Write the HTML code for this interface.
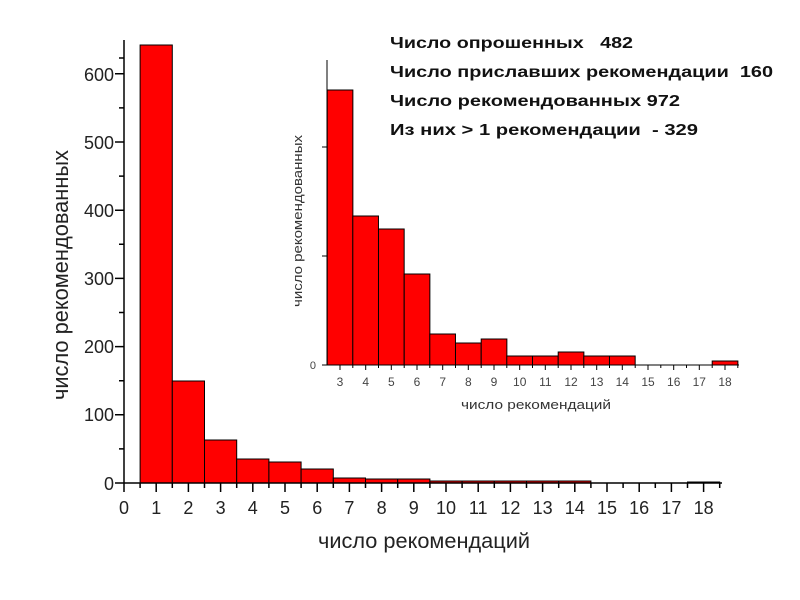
<!DOCTYPE html>
<html><head><meta charset="utf-8"><style>
html,body{margin:0;padding:0;background:#fff;}
svg{display:block;font-family:"Liberation Sans",Arial,sans-serif;}
.pre{white-space:pre;}
</style></head><body>
<svg width="800" height="600" viewBox="0 0 800 600" xmlns="http://www.w3.org/2000/svg" xml:space="preserve">
<rect width="800" height="600" fill="#fff"/>
<g fill="#f00" stroke="#000" stroke-width="1">
<rect x="140.1" y="45" width="32.2" height="438"/>
<rect x="172.3" y="381" width="32.2" height="102"/>
<rect x="204.5" y="440" width="32.2" height="43"/>
<rect x="236.7" y="459" width="32.2" height="24"/>
<rect x="268.9" y="462" width="32.2" height="21"/>
<rect x="301.1" y="469" width="32.2" height="14"/>
<rect x="333.3" y="478" width="32.2" height="5"/>
<rect x="365.5" y="479" width="32.2" height="4"/>
<rect x="397.7" y="479" width="32.2" height="4"/>
<rect x="429.9" y="481" width="32.2" height="2"/>
<rect x="462.1" y="481" width="32.2" height="2"/>
<rect x="494.3" y="481" width="32.2" height="2"/>
<rect x="526.5" y="481" width="32.2" height="2"/>
<rect x="558.7" y="481" width="32.2" height="2"/>
<rect x="687.5" y="482" width="32.2" height="1"/>
</g>
<g stroke="#000" stroke-width="1.5" fill="none">
<line x1="124" y1="40" x2="124" y2="483"/>
<line x1="124" y1="483" x2="722" y2="483"/>
<path d="M115 483H124M115 414.8H124M115 346.6H124M115 278.4H124M115 210.2H124M115 142H124M115 73.8H124
M119 448.9H124M119 380.7H124M119 312.5H124M119 244.3H124M119 176.1H124M119 107.9H124M119 58H124"/>
<path d="M124 483V492M156.2 483V492M188.4 483V492M220.6 483V492M252.8 483V492M285 483V492M317.2 483V492M349.4 483V492M381.6 483V492M413.8 483V492M446 483V492M478.2 483V492M510.4 483V492M542.6 483V492M574.8 483V492M607 483V492M639.2 483V492M671.4 483V492M703.6 483V492
M140.1 483V488M172.3 483V488M204.5 483V488M236.7 483V488M268.9 483V488M301.1 483V488M333.3 483V488M365.5 483V488M397.7 483V488M429.9 483V488M462.1 483V488M494.3 483V488M526.5 483V488M558.7 483V488M590.9 483V488M623.1 483V488M655.3 483V488M687.5 483V488M719.7 483V488"/>
</g>
<g font-size="18" fill="#222" text-anchor="end">
<text x="114" y="490">0</text><text x="114" y="421">100</text><text x="114" y="353">200</text><text x="114" y="285">300</text><text x="114" y="217">400</text><text x="114" y="149">500</text><text x="114" y="81">600</text>
</g>
<g font-size="18" fill="#222" text-anchor="middle">
<text x="124" y="514">0</text><text x="156.2" y="514">1</text><text x="188.4" y="514">2</text><text x="220.6" y="514">3</text><text x="252.8" y="514">4</text><text x="285" y="514">5</text><text x="317.2" y="514">6</text><text x="349.4" y="514">7</text><text x="381.6" y="514">8</text><text x="413.8" y="514">9</text><text x="446" y="514">10</text><text x="478.2" y="514">11</text><text x="510.4" y="514">12</text><text x="542.6" y="514">13</text><text x="574.8" y="514">14</text><text x="607" y="514">15</text><text x="639.2" y="514">16</text><text x="671.4" y="514">17</text><text x="703.6" y="514">18</text>
</g>
<text x="424" y="548" font-size="21" text-anchor="middle" fill="#222" textLength="212" lengthAdjust="spacingAndGlyphs">число рекомендаций</text>
<text transform="translate(68,275) rotate(-90)" font-size="22" text-anchor="middle" fill="#222" textLength="250" lengthAdjust="spacingAndGlyphs">число рекомендованных</text>

<g fill="#f00" stroke="#000" stroke-width="1">
<rect x="327.2" y="90" width="25.67" height="275"/>
<rect x="352.8" y="216" width="25.67" height="149"/>
<rect x="378.5" y="229" width="25.67" height="136"/>
<rect x="404.2" y="274" width="25.67" height="91"/>
<rect x="429.8" y="334" width="25.67" height="31"/>
<rect x="455.5" y="343" width="25.67" height="22"/>
<rect x="481.2" y="339" width="25.67" height="26"/>
<rect x="506.8" y="356" width="25.67" height="9"/>
<rect x="532.5" y="356" width="25.67" height="9"/>
<rect x="558.2" y="352" width="25.67" height="13"/>
<rect x="583.8" y="356" width="25.67" height="9"/>
<rect x="609.5" y="356" width="25.67" height="9"/>
<rect x="712.2" y="361" width="25.67" height="4"/>
</g>
<g stroke="#000" stroke-width="1" fill="none">
<line x1="327" y1="60" x2="327" y2="365"/>
<line x1="327" y1="365" x2="739" y2="365"/>
<path d="M322 365H327M322 256H327M322 147H327"/>
<path d="M340 365V370M365.7 365V370M391.3 365V370M417 365V370M442.7 365V370M468.3 365V370M494 365V370M519.7 365V370M545.3 365V370M571 365V370M596.7 365V370M622.3 365V370M648 365V370M673.7 365V370M699.3 365V370M725 365V370
M352.8 365V368M378.5 365V368M404.2 365V368M429.8 365V368M455.5 365V368M481.2 365V368M506.8 365V368M532.5 365V368M558.2 365V368M583.8 365V368M609.5 365V368M635.2 365V368M660.8 365V368M686.5 365V368M712.2 365V368M737.8 365V368"/>
</g>
<text x="316" y="369" font-size="11" fill="#444" text-anchor="end">0</text>
<g font-size="12" fill="#444" text-anchor="middle">
<text x="340" y="386">3</text><text x="365.7" y="386">4</text><text x="391.3" y="386">5</text><text x="417" y="386">6</text><text x="442.7" y="386">7</text><text x="468.3" y="386">8</text><text x="494" y="386">9</text><text x="519.7" y="386">10</text><text x="545.3" y="386">11</text><text x="571" y="386">12</text><text x="596.7" y="386">13</text><text x="622.3" y="386">14</text><text x="648" y="386">15</text><text x="673.7" y="386">16</text><text x="699.3" y="386">17</text><text x="725" y="386">18</text>
</g>
<text x="536" y="409" font-size="13" fill="#333" text-anchor="middle" textLength="150" lengthAdjust="spacingAndGlyphs">число рекомендаций</text>
<text transform="translate(302,221) rotate(-90)" font-size="13" fill="#333" text-anchor="middle" textLength="172" lengthAdjust="spacingAndGlyphs">число рекомендованных</text>

<g font-size="16" font-weight="bold" fill="#111" class="pre">
<text x="390" y="48" class="pre" textLength="243" lengthAdjust="spacingAndGlyphs">Число опрошенных   482</text>
<text x="390" y="77" class="pre" textLength="383" lengthAdjust="spacingAndGlyphs">Число приславших рекомендации  160</text>
<text x="390" y="106" class="pre" textLength="290" lengthAdjust="spacingAndGlyphs">Число рекомендованных 972</text>
<text x="390" y="135" class="pre" textLength="308" lengthAdjust="spacingAndGlyphs">Из них &gt; 1 рекомендации  - 329</text>
</g>
</svg>
</body></html>
